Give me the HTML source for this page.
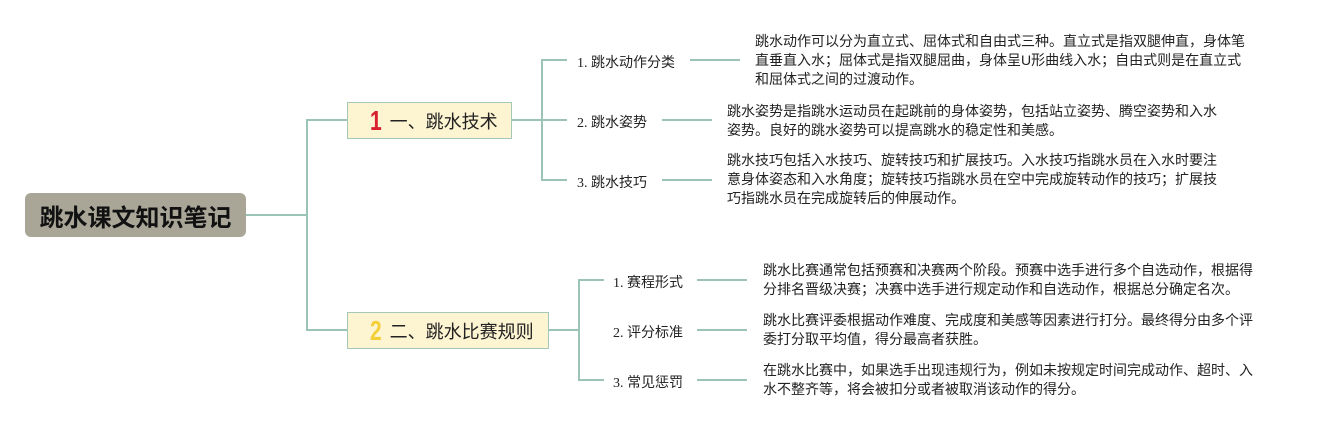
<!DOCTYPE html>
<html><head><meta charset="utf-8"><style>
body{margin:0;width:1323px;height:430px;background:#fff;position:relative;overflow:hidden;font-family:"Liberation Serif","Noto Sans CJK SC",serif;}
.a{position:absolute}
.l{position:absolute;background:#9cc3b7}
.root{left:25px;top:193px;width:221px;height:44px;background:#a9a698;border-radius:6px;font:bold 24px "Liberation Sans","Noto Sans CJK SC",sans-serif;color:#111;display:flex;align-items:center;justify-content:center}
.b{background:#fdf4d2;border:1.5px solid #a5c9b9;box-sizing:border-box;height:37px;display:flex;align-items:center;font:18px "Liberation Sans","Noto Sans CJK SC",sans-serif;color:#222}
.n{font:bold 28px "Liberation Sans",sans-serif;margin:0 6px 0 20px;transform:scaleX(0.75)}
.s{font-size:14px;color:#222;white-space:nowrap}
.t{font-size:14px;line-height:19px;color:#222;white-space:nowrap;font-family:"Liberation Sans","Noto Sans CJK SC",sans-serif}
</style></head><body>
<div class="a root">跳水课文知识笔记</div>
<div class="l" style="left:246px;top:214px;width:61px;height:2px"></div>
<div class="l" style="left:306px;top:120px;width:2px;height:210px"></div>
<div class="l" style="left:306px;top:119px;width:41px;height:2px"></div>
<div class="l" style="left:306px;top:329px;width:41px;height:2px"></div>
<div class="a b" style="left:347px;top:102px;width:165px"><span class="n" style="color:#d8202f">1</span>一、跳水技术</div>
<div class="a b" style="left:347px;top:312px;width:202px"><span class="n" style="color:#f3cf3a">2</span>二、跳水比赛规则</div>
<div class="l" style="left:511px;top:119px;width:31px;height:2px"></div>
<div class="l" style="left:541px;top:60px;width:2px;height:121px"></div>
<div class="l" style="left:541px;top:59px;width:26px;height:2px"></div>
<div class="l" style="left:541px;top:119px;width:26px;height:2px"></div>
<div class="l" style="left:541px;top:179px;width:26px;height:2px"></div>
<div class="a s" style="left:577px;top:52px">1. 跳水动作分类</div>
<div class="a s" style="left:577px;top:112px">2. 跳水姿势</div>
<div class="a s" style="left:577px;top:172px">3. 跳水技巧</div>
<div class="l" style="left:690px;top:59px;width:50px;height:2px"></div>
<div class="l" style="left:662px;top:119px;width:50px;height:2px"></div>
<div class="l" style="left:662px;top:179px;width:50px;height:2px"></div>
<div class="a t" style="left:755px;top:32px">跳水动作可以分为直立式、屈体式和自由式三种。直立式是指双腿伸直，身体笔<br>直垂直入水；屈体式是指双腿屈曲，身体呈U形曲线入水；自由式则是在直立式<br>和屈体式之间的过渡动作。</div>
<div class="a t" style="left:727px;top:102px">跳水姿势是指跳水运动员在起跳前的身体姿势，包括站立姿势、腾空姿势和入水<br>姿势。良好的跳水姿势可以提高跳水的稳定性和美感。</div>
<div class="a t" style="left:727px;top:151px">跳水技巧包括入水技巧、旋转技巧和扩展技巧。入水技巧指跳水员在入水时要注<br>意身体姿态和入水角度；旋转技巧指跳水员在空中完成旋转动作的技巧；扩展技<br>巧指跳水员在完成旋转后的伸展动作。</div>
<div class="l" style="left:548px;top:329px;width:31px;height:2px"></div>
<div class="l" style="left:578px;top:280px;width:2px;height:101px"></div>
<div class="l" style="left:578px;top:279px;width:26px;height:2px"></div>
<div class="l" style="left:578px;top:379px;width:26px;height:2px"></div>
<div class="a s" style="left:613px;top:272px">1. 赛程形式</div>
<div class="a s" style="left:613px;top:322px">2. 评分标准</div>
<div class="a s" style="left:613px;top:372px">3. 常见惩罚</div>
<div class="l" style="left:697px;top:279px;width:50px;height:2px"></div>
<div class="l" style="left:697px;top:329px;width:50px;height:2px"></div>
<div class="l" style="left:697px;top:379px;width:50px;height:2px"></div>
<div class="a t" style="left:763px;top:261px">跳水比赛通常包括预赛和决赛两个阶段。预赛中选手进行多个自选动作，根据得<br>分排名晋级决赛；决赛中选手进行规定动作和自选动作，根据总分确定名次。</div>
<div class="a t" style="left:763px;top:311px">跳水比赛评委根据动作难度、完成度和美感等因素进行打分。最终得分由多个评<br>委打分取平均值，得分最高者获胜。</div>
<div class="a t" style="left:763px;top:361px">在跳水比赛中，如果选手出现违规行为，例如未按规定时间完成动作、超时、入<br>水不整齐等，将会被扣分或者被取消该动作的得分。</div>
</body></html>
